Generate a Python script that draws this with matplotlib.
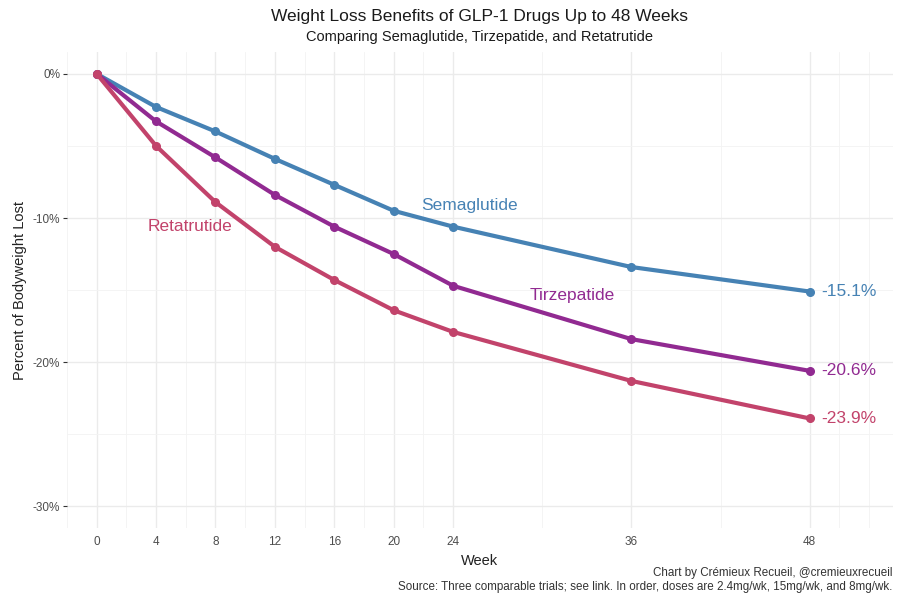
import matplotlib.pyplot as plt
import matplotlib.ticker as mticker

plt.rcParams['font.family'] = ['Liberation Sans', 'DejaVu Sans']

#data
weeks = [0, 4, 8, 12, 16, 20, 24, 36, 48]
semaglutide = [0, -2.3, -4.0, -5.9, -7.7, -9.5, -10.6, -13.4, -15.1]
tirzepatide = [0, -3.3, -5.8, -8.4, -10.6, -12.5, -14.7, -18.4, -20.6]
retatrutide = [0, -5.0, -8.9, -12.0, -14.3, -16.4, -17.9, -21.3, -23.9]

drugs = ["Semaglutide", "Tirzepatide", "Retatrutide"]
series = [semaglutide, tirzepatide, retatrutide]
colors = ["#4682b4", "#912a91", "#c2436b"]
label_pos = [(25.1, -9.1), (32.0, -15.4), (6.3, -10.6)]

fig = plt.figure(figsize=(9, 6), dpi=100)
ax = fig.add_axes([0.0744, 0.12, 0.9176, 0.793])

for name, vals, col, (lx, ly) in zip(drugs, series, colors, label_pos):
    ax.plot(weeks, vals, color=col, lw=3.0, marker="o", markersize=5.5,
            solid_capstyle="round", zorder=3)
    ax.text(lx, ly, name, color=col, fontsize=12.5, ha="center", va="center")
    ax.text(48.8, vals[-1], f"{vals[-1]:.1f}%", color=col, fontsize=12.5,
            ha="left", va="center")

ax.set_xlim(-2, 53.6)
ax.set_ylim(-31.5, 1.5)
ax.set_xticks(weeks)
ax.set_xticks([-2, 2, 6, 10, 14, 18, 22, 30, 42, 50, 52], minor=True)
ax.set_yticks([0, -10, -20, -30])
ax.set_yticks([-5, -15, -25], minor=True)
ax.yaxis.set_major_formatter(mticker.FuncFormatter(lambda v, p: f"{v:.0f}%"))

ax.grid(which="major", color="#ebebeb", lw=1.0)
ax.grid(which="minor", color="#f3f3f3", lw=0.6)
for s in ax.spines.values():
    s.set_visible(False)
ax.tick_params(axis="x", which="both", length=0, labelsize=8.5, labelcolor="#4d4d4d", pad=6)
ax.tick_params(axis="y", which="major", length=3, color="#333333", labelsize=8.5,
               labelcolor="#4d4d4d", pad=2)
ax.tick_params(axis="y", which="minor", length=0)

ax.set_xlabel("Week", fontsize=10.5, color="#222222", labelpad=4)
ax.set_ylabel("Percent of Bodyweight Lost", fontsize=10.5, color="#222222", labelpad=4)

fig.text(0.533, 0.972, "Weight Loss Benefits of GLP-1 Drugs Up to 48 Weeks",
         ha="center", va="center", fontsize=12.5, color="#1a1a1a")
fig.text(0.533, 0.938, "Comparing Semaglutide, Tirzepatide, and Retatrutide",
         ha="center", va="center", fontsize=10.5, color="#1a1a1a")
fig.text(0.992, 0.045, "Chart by Crémieux Recueil, @cremieuxrecueil",
         ha="right", va="center", fontsize=8.4, color="#333333")
fig.text(0.992, 0.022, "Source: Three comparable trials; see link. In order, doses are 2.4mg/wk, 15mg/wk, and 8mg/wk.",
         ha="right", va="center", fontsize=8.4, color="#333333")

fig.savefig("out.png", dpi=100, facecolor="white")
